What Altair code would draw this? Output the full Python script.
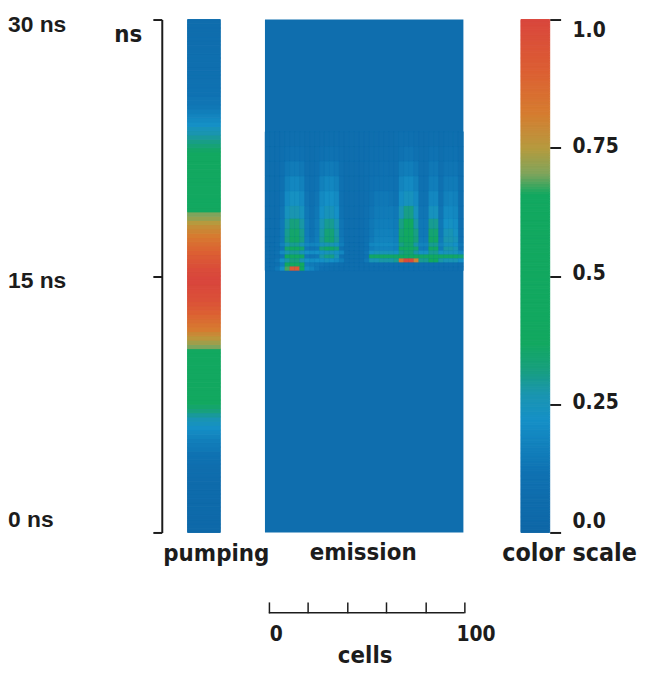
import altair as alt
import pandas as pd

# ---- data ----
COLOR_STOPS = [0, .12, .22, .27, .32, .37, .66, .70, .75, .82, .90, 1]
COLOR_RANGE = ["#0e66a6", "#0f72b2", "#1590c6", "#1a95b0", "#17a07c", "#12a860",
               "#12a860", "#7fa45c", "#b69a3e", "#d67b30", "#dc5f33", "#d9463c"]

PUMP_STEP = 0.25
PUMPING = [
    .03,.03,.03,.03, .04,.04,.04,.04, .05,.05,.05,.05, .06,.07,.07,.08,
    .10,.11,.12,.14, .15,.16,.18,.20, .22,.24,.26,.29, .32,.35,.38,.41,
    .43,.45,.47,.50, .52,.55,.57,.60, .62,.64,.66,.70, .73,.76,.79,.82,
    .84,.86,.88,.90, .92,.94,.96,.97, .98,.99,1.0,1.0, .99,.98,.96,.94,
    .92,.90,.88,.86, .84,.82,.80,.78, .75,.72,.70,.66, .63,.60,.58,.55,
    .53,.51,.49,.47, .45,.43,.42,.40, .39,.36,.33,.31, .29,.27,.25,.22,
    .20,.18,.16,.14, .13,.13,.12,.12, .11,.11,.10,.10, .09,.09,.09,.09,
    .08,.08,.08,.08, .07,.07,.07,.07,
]

CELL_DOMAIN = [-2, 100]
CELL_START = -2
CELL_END = 99.5
CELL_STEP = 2.5375
EMISSION_BG = 0.08
EMISSION_EDGES = [23.44, 22.57, 21.70, 20.83, 19.96, 19.09, 18.34, 17.76, 17.29,
                  16.94, 16.71, 16.48, 16.25, 16.02, 15.78, 15.55, 15.32]
EMISSION = [
 [8,8,8,8, 9,9,9,9, 8,8,8, 9,9,9,9, 8,8,8,8,8,8, 8,8,8,8,8,9, 10,10,10,9, 8,8, 9,9, 8, 9,9,9, 8],
 [8,8,8,9, 11,12,12,11, 9,8,9, 11,12,12,11, 9,8,8,8,8,8, 9,9,9,9,9,9, 12,13,13,11, 9,9, 12,12, 9, 11,11,11, 8],
 [8,8,8,10, 14,15,15,14, 10,9,10, 14,15,15,14, 10,8,8,8,8,9, 10,10,11,11,10,10, 15,16,16,14, 10,10, 14,14, 10, 13,13,13, 9],
 [8,8,8,11, 17,19,19,17, 12,10,12, 17,19,19,17, 11,8,8,8,8,9, 11,12,12,12,12,11, 18,20,20,17, 11,11, 16,16, 11, 15,15,15, 9],
 [8,8,8,12, 20,23,23,20, 13,10,13, 20,22,22,20, 11,8,8,8,8,9, 12,14,14,14,13,12, 21,24,24,20, 12,12, 19,19, 12, 17,18,17, 9],
 [8,8,8,13, 24,27,27,24, 14,11,14, 22,25,25,22, 12,8,8,8,8,10, 13,15,15,15,15,14, 26,31,31,24, 13,13, 24,24, 13, 20,20,19, 9],
 [8,8,8,14, 28,32,32,28, 15,12,15, 26,30,30,26, 13,8,8,8,8,10, 14,16,16,16,16,15, 31,37,37,28, 14,14, 30,30, 14, 22,23,21, 9],
 [8,8,8,14, 30,35,35,30, 15,12,15, 28,33,33,28, 13,8,8,8,8,10, 14,17,17,17,17,16, 34,40,40,31, 14,14, 34,34, 14, 25,26,23, 10],
 [8,8,9,14, 31,36,36,31, 16,13,16, 29,34,34,29, 14,8,8,8,8,11, 15,18,18,18,18,17, 36,42,42,32, 15,15, 36,36, 15, 27,27,25, 11],
 [8,8,10,17, 27,30,30,26, 19,18,19, 25,27,27,24, 16,9,8,8,8,12, 19,20,20,20,20,19, 31,35,35,28, 18,18, 30,30, 18, 24,24,22, 14],
 [8,8,9,13, 34,38,38,34, 14,13,14, 32,36,36,32, 12,8,8,8,8,11, 16,18,18,18,18,17, 37,43,43,34, 15,15, 36,36, 15, 28,28,26, 12],
 [8,9,12,20, 27,29,29,25, 22,21,22, 23,25,25,23, 19,9,8,8,8,13, 23,25,25,25,25,23, 31,34,34,28, 23,23, 30,30, 23, 25,25,24, 19],
 [8,8,9,13, 38,42,42,36, 14,13,14, 28,31,31,26, 12,8,8,8,8,11, 36,36,36,36,36,36, 43,50,50,42, 36,36, 40,40, 36, 36,36,36, 34],
 [8,9,13,22, 28,32,32,27, 22,21,22, 22,24,22,20, 16,9,8,8,8,14, 26,26,28,28,28,30, 85,98,98,80, 30,30, 60,60, 28, 26,26,26, 22],
 [8,9,10,16, 46,64,64,44, 16,15,14, 13,12,11,10, 9,8,8,8,8,8, 9,9,9,9,9,9, 9,9,9,9, 9,9, 9,9, 9, 9,9,9, 8],
 [8,9,14,22, 68,92,92,58, 20,18,14, 11,10,9,9, 8,8,8,8,8,8, 8,8,8,8,8,8, 8,8,8,8, 8,8, 8,8, 8, 8,8,8, 8],
]

TIME_TICKS = [0, 15, 30]
TIME_LABELS = ["30 ns", "15 ns", "0 ns"]
TIME_LABEL_AT = [29.7, 14.7, 0.7]
UNIT_LABEL = "ns"
UNIT_LABEL_AT = 29.1
SCALE_TICKS = [0, .25, .5, .75, 1]
SCALE_LABELS = ["1.0", "0.75", "0.5", "0.25", "0.0"]
SCALE_LABEL_AT = [.977, .752, .504, .252, .021]
CELL_TICKS = [0, 20, 40, 60, 80, 100]
CELL_LABELS = ["0", "100"]
CELL_LABEL_AT = [0, 100]
CELL_LABEL_DX = [1, -8]

INK = "#1c1c1c"
ARIAL = "Liberation Sans"
BLOCKY = "DejaVu Sans Condensed"
H = 517
BAR_LEAD = 12   # blank pixels on the left of the colour-bar panel
BAR_W = 29

color_scale = alt.Scale(domain=COLOR_STOPS, range=COLOR_RANGE, interpolate="rgb")
time_scale = alt.Scale(domain=[0, 30], nice=False, zero=False)
unit_scale = alt.Scale(domain=[0, 1], nice=False, zero=False)
cell_scale = alt.Scale(domain=CELL_DOMAIN, nice=False, zero=False)
bar_x_scale = alt.Scale(domain=[-BAR_LEAD / BAR_W, 1], nice=False, zero=False)

time_axis = alt.Axis(values=TIME_TICKS, orient="left", offset=26, labels=False, title=None, grid=False,
                     tickSize=9, tickWidth=2, domainWidth=2, tickColor=INK, domainColor=INK)
cell_axis = alt.Axis(values=CELL_TICKS, orient="bottom", offset=70, domain=False, labels=False, grid=False,
                     tickSize=11, tickWidth=1.5, tickColor=INK, title="cells", titleFont=BLOCKY, titleFontWeight="bold",
                     titleFontSize=24, titleColor=INK, titlePadding=30)
bar_axis = alt.Axis(values=SCALE_TICKS, orient="right", labels=False, domain=False, title=None, grid=False,
                    tickSize=11, tickWidth=2, tickColor=INK)


def heat_enc(xscale=unit_scale, yscale=time_scale, xaxis=None, yaxis=None):
    return dict(
        x=alt.X("x0:Q", scale=xscale, axis=xaxis),
        x2=alt.X2("x1:Q"),
        y=alt.Y("y0:Q", scale=yscale, axis=yaxis),
        y2=alt.Y2("y1:Q"),
        color=alt.Color("v:Q", scale=color_scale, legend=None),
        stroke=alt.Stroke("v:Q", scale=color_scale, legend=None),
    )


def caption(text, x, y, size=24):
    return alt.Chart(pd.DataFrame({"t": [text]})).mark_text(
        font=BLOCKY, fontWeight="bold", fontSize=size, color=INK, align="center", baseline="middle"
    ).encode(text="t:N", x=alt.value(x), y=alt.value(y))


# ---- pumping panel ----
pump_df = pd.DataFrame({
    "y0": [i * PUMP_STEP for i in range(len(PUMPING))],
    "y1": [(i + 1) * PUMP_STEP for i in range(len(PUMPING))],
    "x0": 0, "x1": 1, "v": PUMPING,
})
pump_rect = alt.Chart(pump_df).mark_rect(strokeWidth=1).encode(**heat_enc(yaxis=time_axis))
time_labels = alt.Chart(pd.DataFrame({"t": TIME_LABELS, "y": TIME_LABEL_AT})).mark_text(
    font=ARIAL, fontWeight="bold", fontSize=23, color=INK, align="left", baseline="middle"
).encode(text="t:N", x=alt.value(-181), y=alt.Y("y:Q", scale=time_scale, axis=time_axis))
unit_label = alt.Chart(pd.DataFrame({"t": [UNIT_LABEL], "y": [UNIT_LABEL_AT]})).mark_text(
    font=BLOCKY, fontWeight="bold", fontSize=24, color=INK, align="left", baseline="middle"
).encode(text="t:N", x=alt.value(-74), y=alt.Y("y:Q", scale=time_scale, axis=time_axis))
pumping = alt.layer(pump_rect, time_labels, unit_label, caption("pumping", 29, 539)).properties(width=33, height=H)

# ---- emission panel ----
emi_rows = []
for r, row in enumerate(EMISSION):
    for c, val in enumerate(row):
        emi_rows.append({
            "x0": CELL_START + c * CELL_STEP, "x1": CELL_START + (c + 1) * CELL_STEP,
            "y0": EMISSION_EDGES[r + 1], "y1": EMISSION_EDGES[r], "v": val / 100,
        })
emi_df = pd.DataFrame(emi_rows)
emi_bg = alt.Chart(pd.DataFrame({"x0": [CELL_START], "x1": [CELL_END], "y0": [0], "y1": [30], "v": [EMISSION_BG]})
                   ).mark_rect(strokeWidth=0).encode(**heat_enc(xscale=cell_scale, xaxis=cell_axis))
emi_rect = alt.Chart(emi_df).mark_rect(strokeWidth=0.3).encode(**heat_enc(xscale=cell_scale, xaxis=cell_axis))
cell_rule = alt.Chart(pd.DataFrame({"a": [CELL_TICKS[0]], "b": [CELL_TICKS[-1]]})).mark_rule(
    color=INK, strokeWidth=1.5, clip=False
).encode(x=alt.X("a:Q", scale=cell_scale, axis=cell_axis), x2="b:Q", y=alt.value(598))
cell_labels = [
    alt.Chart(pd.DataFrame({"t": [t], "x": [x]})).mark_text(
        font=BLOCKY, fontWeight="bold", fontSize=21, color=INK, align="left", baseline="middle", dx=dx, clip=False
    ).encode(text="t:N", x=alt.X("x:Q", scale=cell_scale, axis=cell_axis), y=alt.value(620))
    for t, x, dx in zip(CELL_LABELS, CELL_LABEL_AT, CELL_LABEL_DX)
]
emission = alt.layer(emi_bg, emi_rect, cell_rule, *cell_labels, caption("emission", 99, 538)).properties(width=201, height=H)

# ---- colour bar ----
bar_df = pd.DataFrame({
    "y0": [i / 200 for i in range(200)], "y1": [(i + 1) / 200 for i in range(200)],
    "v": [(i + 0.5) / 200 for i in range(200)], "x0": 0, "x1": 1,
})
bar_rect = alt.Chart(bar_df).mark_rect(strokeWidth=1).encode(**heat_enc(xscale=bar_x_scale, yscale=unit_scale, yaxis=bar_axis))
bar_labels = alt.Chart(pd.DataFrame({"t": SCALE_LABELS, "y": SCALE_LABEL_AT})).mark_text(
    font=BLOCKY, fontWeight="bold", fontSize=21, color=INK, align="left", baseline="middle"
).encode(text="t:N", x=alt.value(BAR_LEAD + 52), y=alt.Y("y:Q", scale=unit_scale, axis=bar_axis))
colorbar = alt.layer(bar_rect, bar_labels, caption("color scale", BAR_LEAD + 49, 538, 25)).properties(width=BAR_LEAD + BAR_W, height=H)

chart = alt.hconcat(pumping, emission, colorbar, spacing=45, bounds="flush").resolve_scale(
    color="shared", stroke="shared"
).properties(padding={"left": 0, "top": 3, "right": 0, "bottom": 0}).configure_view(stroke=None)

chart.save("out.html", embed_options={"renderer": "svg", "actions": False})
